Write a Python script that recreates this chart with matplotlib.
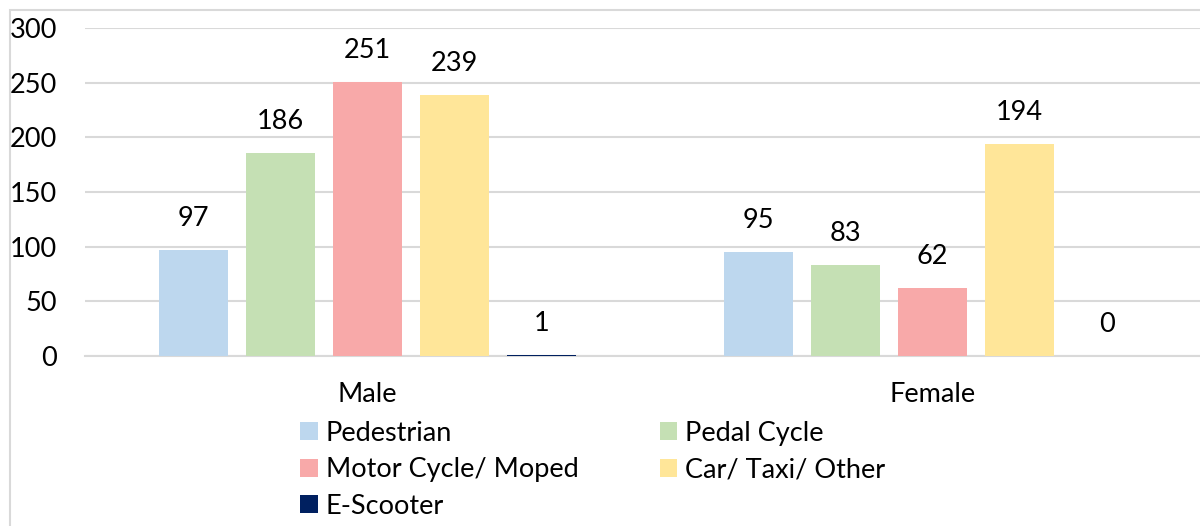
import numpy as np
import matplotlib.pyplot as plt
from matplotlib.patches import Rectangle

plt.rcParams['font.family'] = ['Lato', 'DejaVu Sans']

groups = ['Male', 'Female']
series = ['Pedestrian', 'Pedal Cycle', 'Motor Cycle/ Moped', 'Car/ Taxi/ Other', 'E-Scooter']
values = {
    'Pedestrian': [97, 95],
    'Pedal Cycle': [186, 83],
    'Motor Cycle/ Moped': [251, 62],
    'Car/ Taxi/ Other': [239, 194],
    'E-Scooter': [1, 0],
}
colors = ['#BDD7EE', '#C5E0B4', '#F8A9A9', '#FFE699', '#002060']

fs = 19.5
fig = plt.figure(figsize=(12, 5.26), dpi=100)
ax = fig.add_axes([0.0708, 0.3232, 0.9417, 0.6236])

x = np.arange(len(groups))
w = 0.122
step = 0.154
handles = []
for i, s in enumerate(series):
    pos = x + (i - 2) * step
    bars = ax.bar(pos, values[s], w, color=colors[i], label=s, zorder=3)
    handles.append(bars)
    for p, v in zip(pos, values[s]):
        ax.annotate(str(v), (p, v), xytext=(0, 22.5), textcoords='offset points',
                    ha='center', va='center', fontsize=fs)

ax.set_xlim(-0.5, 1.5)
ax.set_ylim(0, 300)
ax.set_yticks(range(0, 301, 50))
ax.set_xticks(x)
ax.set_xticklabels(groups)
ax.yaxis.grid(True, color='#D9D9D9', lw=1.5, zorder=0)
for sp in ['top', 'right', 'left']:
    ax.spines[sp].set_visible(False)
ax.spines['bottom'].set_color('#D9D9D9')
ax.spines['bottom'].set_linewidth(1.5)
ax.tick_params(axis='both', length=0, labelsize=fs)
ax.tick_params(axis='y', pad=20)
ax.tick_params(axis='x', pad=19)

# row-wise legend order like the original
order = [0, 2, 4, 1, 3]
fig.legend([handles[k] for k in order], [series[k] for k in order],
           loc='upper left', bbox_to_anchor=(300 / 1200, 0.200), ncol=2, frameon=False,
           fontsize=fs, handlelength=0.65, handleheight=0.65, handletextpad=0.3,
           columnspacing=3.0, labelspacing=0.42, borderpad=0, borderaxespad=0)

fig.patches.append(Rectangle((9.5 / 1200, -0.1), 1.2, 1 - 10 / 526 + 0.1, transform=fig.transFigure,
                             fill=False, edgecolor='#D9D9D9', lw=1.5, zorder=0))

fig.savefig('out.png', dpi=100)
